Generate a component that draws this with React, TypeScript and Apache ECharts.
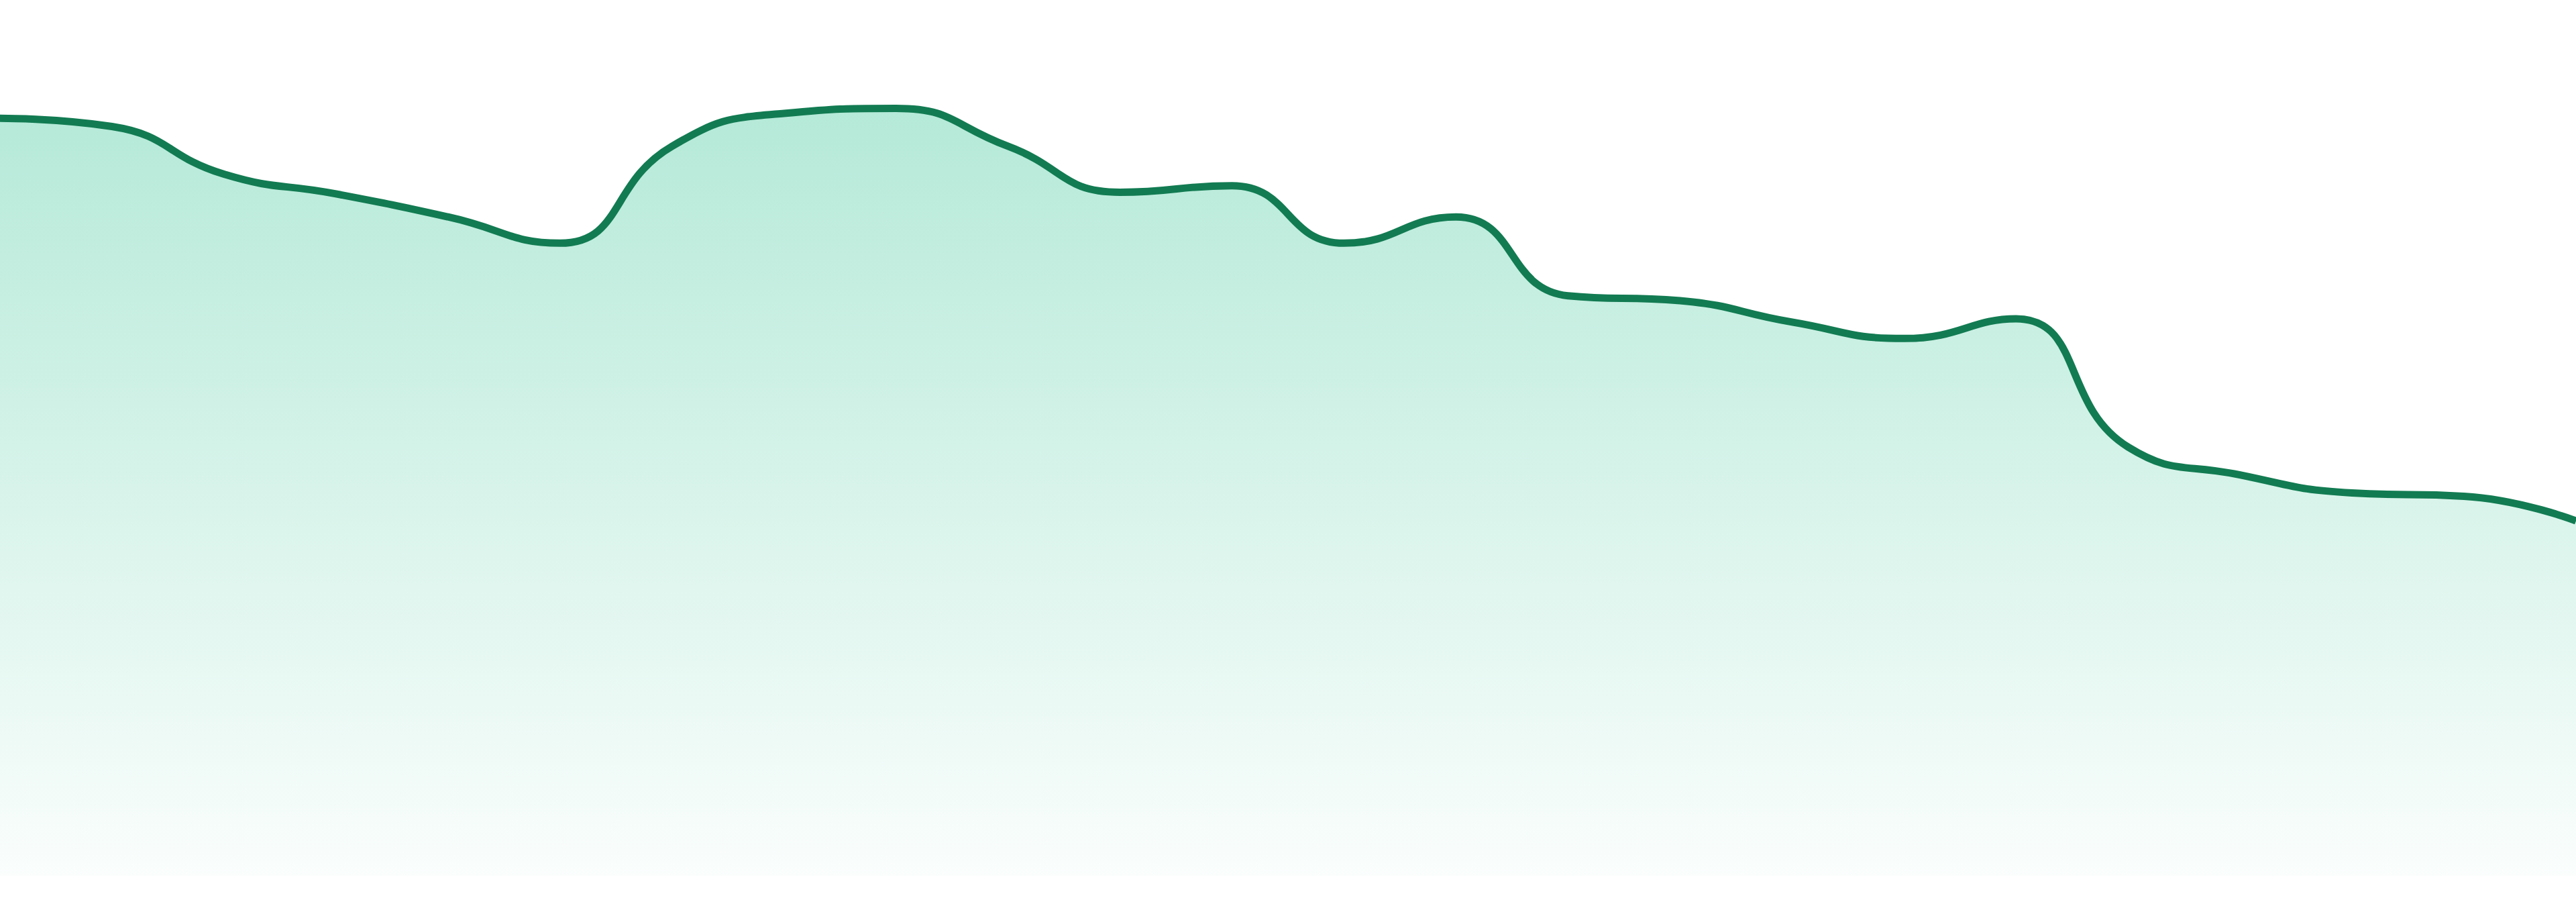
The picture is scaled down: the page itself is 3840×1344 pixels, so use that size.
import { useEffect, useRef } from 'react';
import * as echarts from 'echarts';

// values (heights above the baseline)
const categories = [
  'P1', 'P2', 'P3', 'P4', 'P5', 'P6', 'P7', 'P8', 'P9', 'P10', 'P11', 'P12',
  'P13', 'P14', 'P15', 'P16', 'P17', 'P18', 'P19', 'P20', 'P21', 'P22', 'P23', 'P24',
];
const values = [
  461, 456, 427, 415, 401, 385, 444, 464, 467, 444, 416, 420,
  385, 401, 353, 350, 337, 327, 339, 261, 244, 233, 231, 216,
];
const yMin = 0;
const yMax = 533;

const lineColor = '#127b52';

export default function App() {
  const containerRef = useRef<HTMLDivElement>(null);

  useEffect(() => {
    if (!containerRef.current) return;
    const chart = echarts.init(containerRef.current, null, { renderer: 'svg' });

    const option: echarts.EChartsOption = {
      backgroundColor: '#ffffff',
      animation: false,
      grid: { left: 0, right: 0, top: 0, bottom: 39 },
      xAxis: {
        type: 'category',
        data: categories,
        boundaryGap: false,
        show: false,
      },
      yAxis: {
        type: 'value',
        min: yMin,
        max: yMax,
        show: false,
      },
      series: [
        {
          type: 'line',
          data: values,
          smooth: true,
          showSymbol: false,
          lineStyle: { color: lineColor, width: 11 },
          areaStyle: {
            opacity: 1,
            color: new echarts.graphic.LinearGradient(0, 0, 0, 1, [
              { offset: 0, color: 'rgba(16, 185, 129, 0.31)' },
              { offset: 1, color: 'rgba(16, 185, 129, 0.02)' },
            ]),
          },
        },
      ],
    };

    chart.setOption(option, true);
    return () => chart.dispose();
  }, []);

  return (
    <div
      ref={containerRef}
      style={{ position: 'fixed', left: 0, top: 0, width: '3840px', height: '1344px' }}
    />
  );
}
